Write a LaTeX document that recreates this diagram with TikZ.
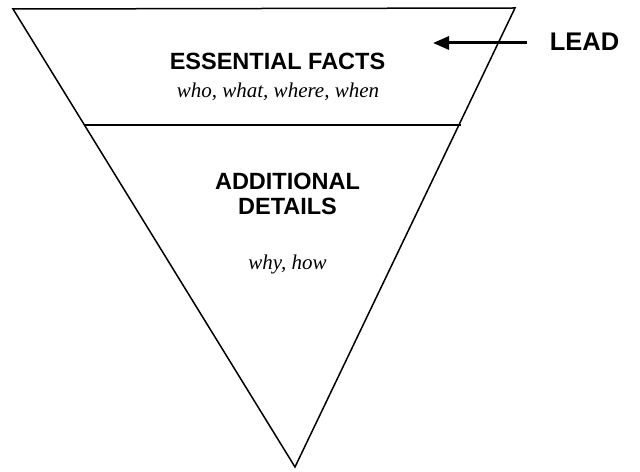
\documentclass[tikz,border=0pt]{standalone}
\usepackage{fontspec}
\setmainfont{Liberation Serif}
\setsansfont{Liberation Sans}
\usetikzlibrary{arrows.meta}
\tikzset{
  funnel/.style={line width=1.5bp, line join=miter},
  head/.style={font=\sffamily\bfseries\fontsize{23.5bp}{25bp}\selectfont, anchor=base, inner sep=0pt},
  sub/.style={font=\itshape\fontsize{21bp}{24bp}\selectfont, anchor=base, inner sep=0pt},
  leadlbl/.style={font=\sffamily\bfseries\fontsize{25.5bp}{28bp}\selectfont, anchor=base, inner sep=0pt},
  leadarrow/.style={line width=3bp, -{Triangle[length=16bp,width=13bp]}}
}
\begin{document}
\begin{tikzpicture}[x=1bp,y=-1bp]
\useasboundingbox (0,0) rectangle (640,472);
\coordinate (tl) at (13,9);
\coordinate (tr) at (515,8);
\coordinate (bt) at (295,467);
\coordinate (dl) at (84.4,125);
\coordinate (dr) at (461,125);
\draw[funnel] (tl) -- (tr) -- (bt) -- cycle;
\draw[funnel] (dl) -- (dr);
\node[head] (ess) at (277.5,70) {ESSENTIAL FACTS};
\node[sub] (who) at (278,98) {who, what, where, when};
\node[head] (add) at (287.5,190) {ADDITIONAL};
\node[head] (det) at (287.5,215) {DETAILS};
\node[sub] (why) at (287.5,270) {why, how};
\node[leadlbl] (lead) at (584.5,51) {LEAD};
\coordinate (atail) at (527,43);
\coordinate (atip) at (433,43);
\draw[leadarrow] (atail) -- (atip);
\end{tikzpicture}
\end{document}
